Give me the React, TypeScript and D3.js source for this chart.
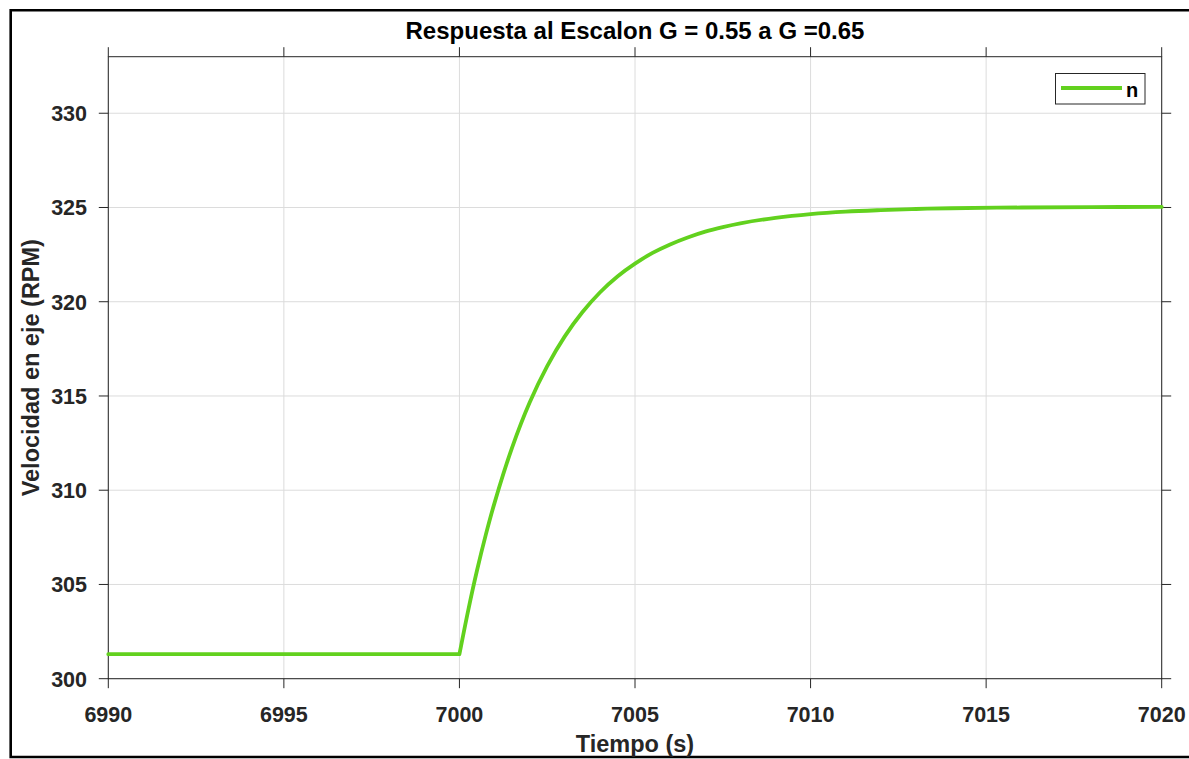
import React from "react";
import * as d3 from "d3";

const timeValues = [6990, 7000, 7000.25, 7000.5, 7000.75, 7001, 7001.5, 7002, 7002.5, 7003, 7003.5, 7004, 7004.5, 7005, 7005.5, 7006, 7006.5, 7007, 7007.5, 7008, 7009, 7010, 7011, 7012, 7013, 7014, 7016, 7018, 7020];
const speedValues = [301.3, 301.3, 303.63, 305.74, 307.63, 309.33, 312.26, 314.65, 316.58, 318.16, 319.44, 320.49, 321.34, 322.02, 322.59, 323.04, 323.41, 323.72, 323.96, 324.16, 324.45, 324.65, 324.78, 324.86, 324.92, 324.96, 325.0, 325.02, 325.03];
const xTicks = [6990, 6995, 7000, 7005, 7010, 7015, 7020];
const yTicks = [300, 305, 310, 315, 320, 325, 330];
const seriesName = "n";
const title = "Respuesta al Escalon G = 0.55 a G =0.65";
const xLabel = "Tiempo (s)";
const yLabel = "Velocidad en eje (RPM)";

const W = 1189;
const H = 759;
const L = 108.3;
const R = 1161.7;
const T = 56.7;
const B = 678.7;
const FONT = "'Liberation Sans', Arial, Helvetica, sans-serif";
const AX = "#262626";
const GREEN = "#62D11E";

export default function App() {
  const x = d3.scaleLinear().domain([6990, 7020]).range([L, R]);
  const y = d3.scaleLinear().domain([300, 333]).range([B, T]);
  const pts = timeValues.map((t, i) => [t, speedValues[i]] as [number, number]);
  const flat = pts.slice(0, 2);
  const rise = pts.slice(1);
  const lin = d3.line<[number, number]>().x(d => x(d[0])).y(d => y(d[1]));
  const smooth = d3.line<[number, number]>().x(d => x(d[0])).y(d => y(d[1])).curve(d3.curveCatmullRom.alpha(0.5));
  const pathD = (lin(flat) || "") + (smooth(rise) || "");
  const tickLen = 9.5;

  return (
    <svg width={W} height={H} style={{ position: "absolute", left: 0, top: 0, display: "block", background: "#fff" }} fontFamily={FONT}>
      <rect x={0} y={0} width={W} height={H} fill="#fff" />
      <path d={`M1200,10.3 H10.7 V757 H1200`} fill="none" stroke="#000" strokeWidth={2.6} />
      {xTicks.map(t => (
        <line key={"gx" + t} x1={x(t)} x2={x(t)} y1={T} y2={B} stroke="#dcdcdc" strokeWidth={1} />
      ))}
      {yTicks.map(v => (
        <line key={"gy" + v} x1={L} x2={R} y1={y(v)} y2={y(v)} stroke="#dcdcdc" strokeWidth={1} />
      ))}
      <rect x={L} y={T} width={R - L} height={B - T} fill="none" stroke={AX} strokeWidth={1} />
      {xTicks.map(t => (
        <g key={"tx" + t}>
          <line x1={x(t)} x2={x(t)} y1={B} y2={B + tickLen} stroke={AX} strokeWidth={1} />
          <line x1={x(t)} x2={x(t)} y1={T} y2={T - tickLen} stroke={AX} strokeWidth={1} />
          <text x={x(t)} y={721.5} textAnchor="middle" fontSize={21.5} fontWeight="bold" fill={AX}>{t}</text>
        </g>
      ))}
      {yTicks.map(v => (
        <g key={"ty" + v}>
          <line x1={L} x2={L - tickLen} y1={y(v)} y2={y(v)} stroke={AX} strokeWidth={1} />
          <line x1={R} x2={R + tickLen} y1={y(v)} y2={y(v)} stroke={AX} strokeWidth={1} />
          <text x={87} y={y(v) + 8} textAnchor="end" fontSize={21.5} fontWeight="bold" fill={AX}>{v}</text>
        </g>
      ))}
      <path d={pathD} fill="none" stroke={GREEN} strokeWidth={3.8} strokeLinejoin="round" strokeLinecap="round" />
      <rect x={1055.5} y={73.5} width={89.5} height={30.5} fill="#fff" stroke={AX} strokeWidth={1} />
      <line x1={1061} x2={1122} y1={88} y2={88} stroke={GREEN} strokeWidth={3.8} />
      <text x={1126} y={96.5} fontSize={20} fontWeight="bold" fill="#000">{seriesName}</text>
      <text x={(L + R) / 2} y={39} textAnchor="middle" fontSize={24} fontWeight="bold" fill="#000">{title}</text>
      <text x={(L + R) / 2} y={752} textAnchor="middle" fontSize={23.5} fontWeight="bold" fill={AX}>{xLabel}</text>
      <text transform={`translate(39, ${(T + B) / 2}) rotate(-90)`} textAnchor="middle" fontSize={23.5} fontWeight="bold" fill={AX}>{yLabel}</text>
    </svg>
  );
}
